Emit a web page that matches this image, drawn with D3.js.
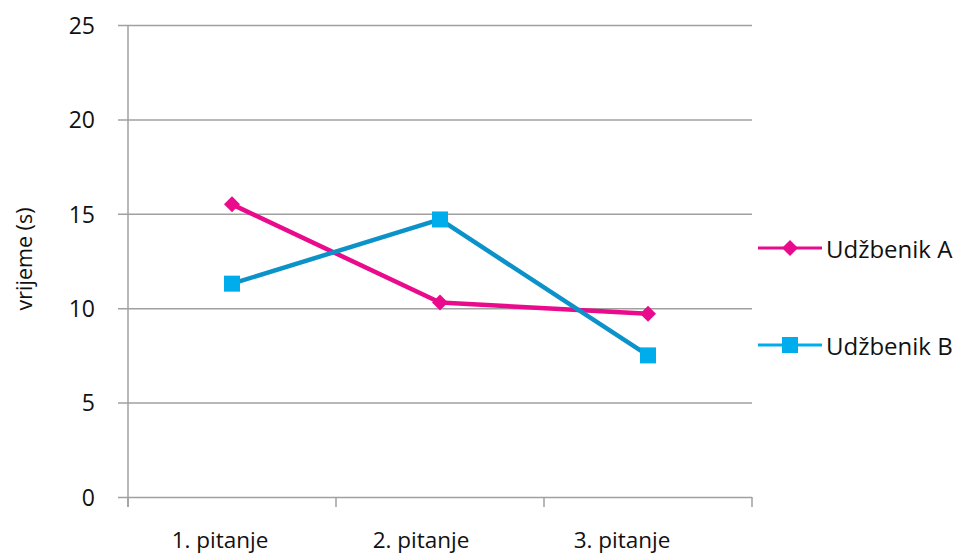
<!DOCTYPE html>
<html><head><meta charset="utf-8">
<script src="https://cdn.jsdelivr.net/npm/d3@7"></script>
<style>body{margin:0;background:#fff}svg{display:block}text{font-family:"Open Sans",sans-serif;fill:#111}</style>
</head><body><svg id="c" width="956" height="558"></svg>
<script>
const categories = ["1. pitanje", "2. pitanje", "3. pitanje"];
const seriesNames = ["Udžbenik A", "Udžbenik B"];
const valuesA = [15.5, 10.3, 9.7];
const valuesB = [11.3, 14.7, 7.5];
const yTicks = [0, 5, 10, 15, 20, 25];

const svg = d3.select("#c");
const m = {l:128, r:752, t:25, b:497};
const x = d3.scaleBand().domain(categories).range([m.l, m.r]);
const xLabel = d3.scalePoint().domain(categories).range([220, 622]);
const y = d3.scaleLinear().domain([0,25]).range([m.b, m.t]);
const grid = "#a0a0a0";

// gridlines + y ticks
const yAxis = d3.axisLeft(y).tickValues(yTicks).tickSize(-(m.r - m.l)).tickSizeOuter(0).tickPadding(0);
const gy = svg.append("g").attr("transform", `translate(${m.l},0)`).call(yAxis);
gy.select(".domain").remove();
gy.selectAll(".tick line").attr("x1", -10).attr("stroke", grid).attr("stroke-width", 1.5);
gy.selectAll(".tick text").attr("x", -33).attr("font-size", 23).attr("fill", "#111").attr("dy", "0.36em").attr("font-family", "Open Sans");
// y axis line
svg.append("line").attr("x1", m.l).attr("x2", m.l).attr("y1", m.t).attr("y2", m.b + 10).attr("stroke", grid).attr("stroke-width", 1.5);

// x axis tick marks at band boundaries
const bounds = categories.map(c => x(c)).concat([x(categories[categories.length-1]) + x.bandwidth()]);
svg.selectAll(".xt").data(bounds).enter().append("line")
  .attr("x1", d => d).attr("x2", d => d).attr("y1", m.b).attr("y2", m.b + 10)
  .attr("stroke", grid).attr("stroke-width", 1.5);
// x labels
svg.selectAll(".xl").data(categories).enter().append("text")
  .attr("x", d => xLabel(d)).attr("y", 548).attr("text-anchor", "middle")
  .attr("font-size", 22.5).text(d => d);

// y title
svg.append("text").attr("transform", `translate(32,${259}) rotate(-90)`)
  .attr("text-anchor", "middle").attr("font-size", 21.5).text("vrijeme (s)");

const cx = c => x(c) + x.bandwidth()/2;
const line = d3.line().x((d,i) => cx(categories[i])).y(d => y(d));

const colA = "#ea0a8c", colB = "#0b93c9", colBm = "#00adec";
svg.append("path").datum(valuesA).attr("d", line).attr("fill", "none").attr("stroke", colA).attr("stroke-width", 4.5).attr("stroke-linejoin", "round");
svg.append("path").datum(valuesB).attr("d", line).attr("fill", "none").attr("stroke", colB).attr("stroke-width", 4.5).attr("stroke-linejoin", "round");

const diamond = (g, px, py) => g.append("path").attr("d", `M${px},${py-8}L${px+8},${py}L${px},${py+8}L${px-8},${py}Z`).attr("fill", colA);
const square = (g, px, py) => g.append("rect").attr("x", px-8).attr("y", py-8).attr("width", 16).attr("height", 16).attr("fill", colBm);

valuesA.forEach((v,i) => diamond(svg, cx(categories[i]), y(v)));
valuesB.forEach((v,i) => square(svg, cx(categories[i]), y(v)));

// legend
const lg = svg.append("g");
const ly = [248, 345];
lg.append("line").attr("x1", 758).attr("x2", 822).attr("y1", ly[0]).attr("y2", ly[0]).attr("stroke", colA).attr("stroke-width", 3);
diamond(lg, 790, ly[0]);
lg.append("line").attr("x1", 758).attr("x2", 822).attr("y1", ly[1]).attr("y2", ly[1]).attr("stroke", colBm).attr("stroke-width", 3);
square(lg, 790, ly[1]);
seriesNames.forEach((n,i) => lg.append("text").attr("x", 826).attr("y", ly[i] + 10).attr("font-size", 24).text(n));
</script></body></html>
